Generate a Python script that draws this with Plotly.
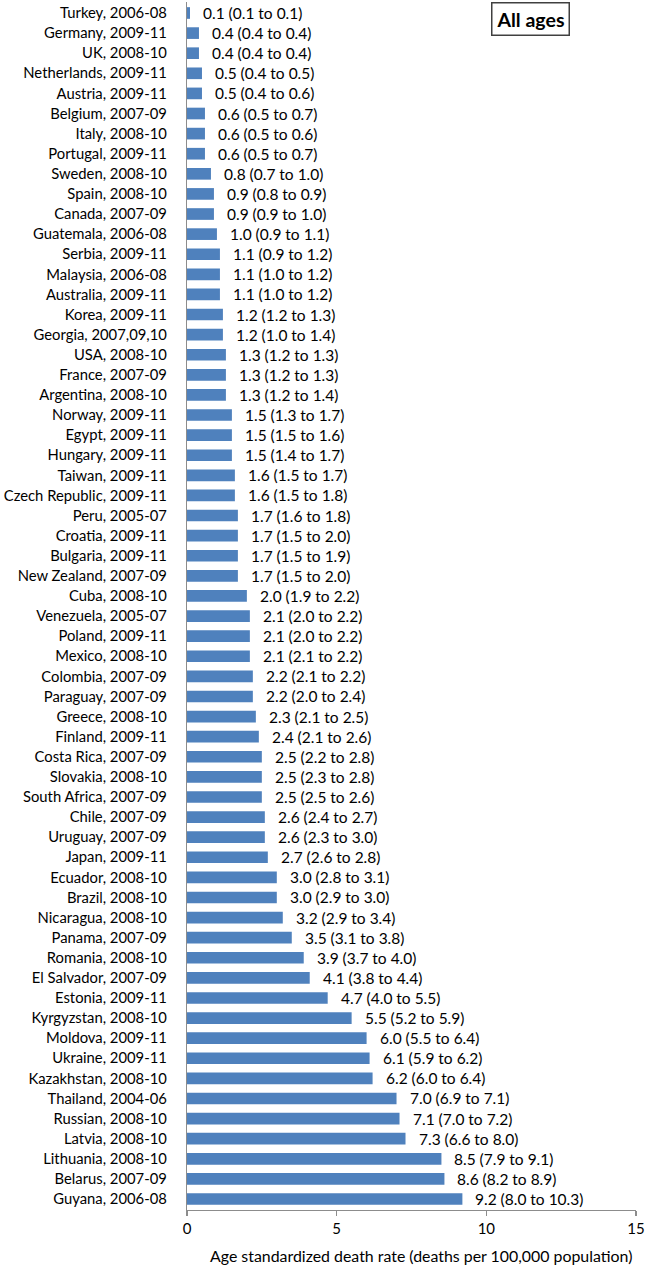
import plotly.graph_objects as go

countries = [
    "Turkey, 2006-08", "Germany, 2009-11", "UK, 2008-10", "Netherlands, 2009-11",
    "Austria, 2009-11", "Belgium, 2007-09", "Italy, 2008-10", "Portugal, 2009-11",
    "Sweden, 2008-10", "Spain, 2008-10", "Canada, 2007-09", "Guatemala, 2006-08",
    "Serbia, 2009-11", "Malaysia, 2006-08", "Australia, 2009-11", "Korea, 2009-11",
    "Georgia, 2007,09,10", "USA, 2008-10", "France, 2007-09", "Argentina, 2008-10",
    "Norway, 2009-11", "Egypt, 2009-11", "Hungary, 2009-11", "Taiwan, 2009-11",
    "Czech Republic, 2009-11", "Peru, 2005-07", "Croatia, 2009-11", "Bulgaria, 2009-11",
    "New Zealand, 2007-09", "Cuba, 2008-10", "Venezuela, 2005-07", "Poland, 2009-11",
    "Mexico, 2008-10", "Colombia, 2007-09", "Paraguay, 2007-09", "Greece, 2008-10",
    "Finland, 2009-11", "Costa Rica, 2007-09", "Slovakia, 2008-10", "South Africa, 2007-09",
    "Chile, 2007-09", "Uruguay, 2007-09", "Japan, 2009-11", "Ecuador, 2008-10",
    "Brazil, 2008-10", "Nicaragua, 2008-10", "Panama, 2007-09", "Romania, 2008-10",
    "El Salvador, 2007-09", "Estonia, 2009-11", "Kyrgyzstan, 2008-10", "Moldova, 2009-11",
    "Ukraine, 2009-11", "Kazakhstan, 2008-10", "Thailand, 2004-06", "Russian, 2008-10",
    "Latvia, 2008-10", "Lithuania, 2008-10", "Belarus, 2007-09", "Guyana, 2006-08",
]
rates = [
    0.1, 0.4, 0.4, 0.5, 0.5, 0.6, 0.6, 0.6, 0.8, 0.9, 0.9, 1.0, 1.1, 1.1, 1.1, 1.2,
    1.2, 1.3, 1.3, 1.3, 1.5, 1.5, 1.5, 1.6, 1.6, 1.7, 1.7, 1.7, 1.7, 2.0, 2.1, 2.1,
    2.1, 2.2, 2.2, 2.3, 2.4, 2.5, 2.5, 2.5, 2.6, 2.6, 2.7, 3.0, 3.0, 3.2, 3.5, 3.9,
    4.1, 4.7, 5.5, 6.0, 6.1, 6.2, 7.0, 7.1, 7.3, 8.5, 8.6, 9.2,
]
lower = [
    0.1, 0.4, 0.4, 0.4, 0.4, 0.5, 0.5, 0.5, 0.7, 0.8, 0.9, 0.9, 0.9, 1.0, 1.0, 1.2,
    1.0, 1.2, 1.2, 1.2, 1.3, 1.5, 1.4, 1.5, 1.5, 1.6, 1.5, 1.5, 1.5, 1.9, 2.0, 2.0,
    2.1, 2.1, 2.0, 2.1, 2.1, 2.2, 2.3, 2.5, 2.4, 2.3, 2.6, 2.8, 2.9, 2.9, 3.1, 3.7,
    3.8, 4.0, 5.2, 5.5, 5.9, 6.0, 6.9, 7.0, 6.6, 7.9, 8.2, 8.0,
]
upper = [
    0.1, 0.4, 0.4, 0.5, 0.6, 0.7, 0.6, 0.7, 1.0, 0.9, 1.0, 1.1, 1.2, 1.2, 1.2, 1.3,
    1.4, 1.3, 1.3, 1.4, 1.7, 1.6, 1.7, 1.7, 1.8, 1.8, 2.0, 1.9, 2.0, 2.2, 2.2, 2.2,
    2.2, 2.2, 2.4, 2.5, 2.6, 2.8, 2.8, 2.6, 2.7, 3.0, 2.8, 3.1, 3.0, 3.4, 3.8, 4.0,
    4.4, 5.5, 5.9, 6.4, 6.2, 6.4, 7.1, 7.2, 8.0, 9.1, 8.9, 10.3,
]
x_ticks = [0, 5, 10, 15]
x_title = "Age standardized death rate (deaths per 100,000 population)"
panel_label = "All ages"

FONT = "Lato, 'Open Sans', sans-serif"
labels = [f"{v:.1f} ({lo:.1f} to {hi:.1f})" for v, lo, hi in zip(rates, lower, upper)]

fig = go.Figure()
fig.add_trace(go.Bar(
    x=rates, y=countries, orientation="h",
    marker=dict(color="#4F81BD", line=dict(width=0)),
    hoverinfo="skip",
))

for c, v, t in zip(countries, rates, labels):
    fig.add_annotation(
        x=v, y=c, text=t, xanchor="left", yanchor="middle",
        xshift=11, showarrow=False,
        font=dict(family=FONT, size=15.5, color="#000000"),
    )

fig.add_annotation(
    xref="paper", yref="paper", x=0.764, y=1.0, xanchor="center", yanchor="top",
    text="<b>" + panel_label + "</b>", showarrow=False,
    font=dict(family=FONT, size=19.5, color="#000000"),
    bordercolor="#404040", borderwidth=1.5, borderpad=4, bgcolor="white",
)

# x-axis title (placed as annotation to match reference offset)
fig.add_annotation(
    xref="paper", yref="paper", x=0.521, y=-0.0373, xanchor="center", yanchor="middle",
    text=x_title, showarrow=False,
    font=dict(family=FONT, size=15.9, color="#000000"),
)

fig.update_layout(
    width=646, height=1265,
    margin=dict(l=187, r=10, t=2, b=55, autoexpand=False),
    paper_bgcolor="white", plot_bgcolor="white",
    bargap=0.42, showlegend=False, hovermode=False,
    font=dict(family=FONT, size=15.5, color="#000000"),
)
fig.update_xaxes(
    range=[0, 15], tickvals=x_ticks, ticktext=[str(t) for t in x_ticks],
    showgrid=False, zeroline=False,
    showline=True, linecolor="#8C8C8C", linewidth=1.2,
    ticks="outside", ticklen=5, tickcolor="#8C8C8C", tickwidth=1.2,
    tickfont=dict(family=FONT, size=15, color="#000000"),
    ticklabeloverflow="allow",
    automargin=False,
)
fig.update_yaxes(
    autorange="reversed", showgrid=False, zeroline=False,
    showline=True, linecolor="#8C8C8C", linewidth=1.2,
    ticks="", ticklabelstandoff=16,
    tickfont=dict(family=FONT, size=14.8, color="#000000"),
    automargin=False,
)

fig.write_html(
    "out.html",
    config={"displayModeBar": False, "staticPlot": True},
    post_script="document.body.style.margin='0';document.body.style.overflow='hidden';",
)
